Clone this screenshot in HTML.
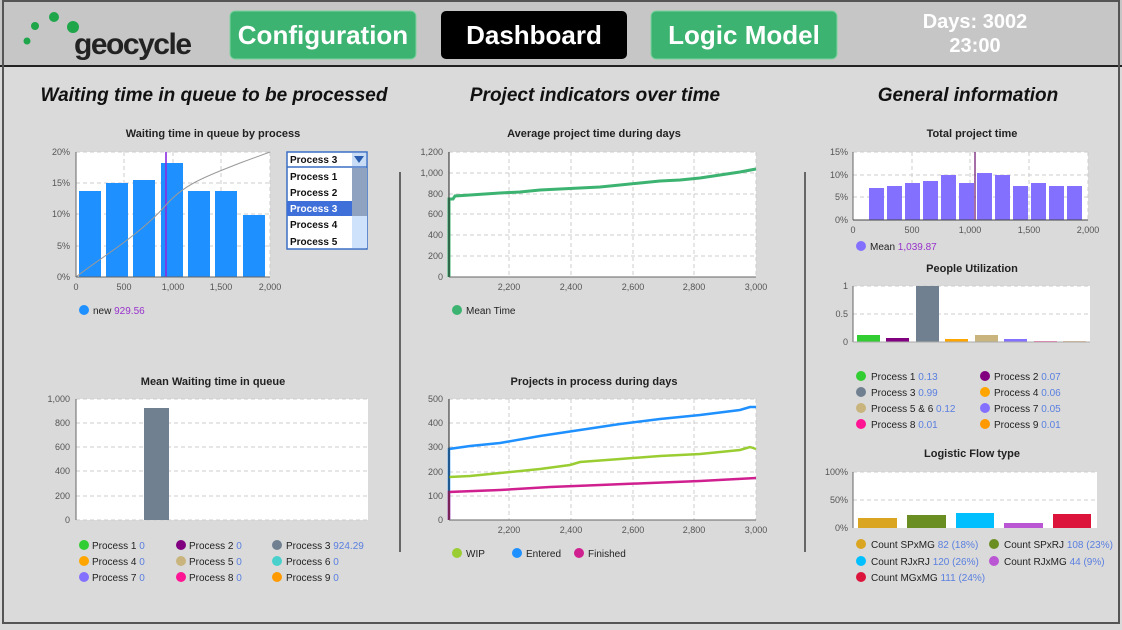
<!DOCTYPE html>
<html><head><meta charset="utf-8"><style>
html,body{margin:0;padding:0;background:#dadada;}
svg{display:block;font-family:"Liberation Sans",Arial,sans-serif;}
.t{font-size:9px;fill:#555;}
.ct{font-size:11px;font-weight:bold;fill:#222;text-anchor:middle;}
.st{font-size:19px;font-weight:bold;font-style:italic;fill:#111;text-anchor:middle;}
.lg{font-size:10px;fill:#222;}
.v{fill:#5a7fe0;}
.g{stroke:#ccc;stroke-dasharray:4 3;stroke-width:1;}
</style></head><body>
<svg width="1122" height="630" viewBox="0 0 1122 630">
<rect x="0" y="0" width="1122" height="630" fill="#dadada"/>
<rect x="0" y="0" width="1122" height="66" fill="#c6c6c6"/>
<line x1="0" y1="66" x2="1122" y2="66" stroke="#222" stroke-width="2"/>
<rect x="3" y="1" width="1116" height="622" fill="none" stroke="#555" stroke-width="2"/>
<!-- logo -->
<circle cx="27" cy="41" r="3.5" fill="#1fa64a"/><circle cx="35" cy="26" r="4" fill="#1fa64a"/>
<circle cx="54" cy="17" r="5" fill="#1fa64a"/><circle cx="73" cy="27" r="6" fill="#1fa64a"/>
<text x="74" y="54" font-size="30" font-weight="bold" fill="#222" textLength="118">geocycle</text>
<!-- buttons -->
<rect x="230" y="11" width="186" height="48" rx="5" fill="#3cb371" stroke="#7fd39f"/>
<text x="323" y="44" font-size="26" font-weight="bold" fill="#fff" text-anchor="middle">Configuration</text>
<rect x="441" y="11" width="186" height="48" rx="5" fill="#000"/>
<text x="534" y="44" font-size="26" font-weight="bold" fill="#fff" text-anchor="middle">Dashboard</text>
<rect x="651" y="11" width="186" height="48" rx="5" fill="#3cb371" stroke="#7fd39f"/>
<text x="744" y="44" font-size="26" font-weight="bold" fill="#fff" text-anchor="middle">Logic Model</text>
<text x="975" y="28" font-size="20" font-weight="bold" fill="#fff" text-anchor="middle">Days: 3002</text>
<text x="975" y="52" font-size="20" font-weight="bold" fill="#fff" text-anchor="middle">23:00</text>
<!-- section titles -->
<text class="st" x="214" y="101">Waiting time in queue to be processed</text>
<text class="st" x="595" y="101">Project indicators over time</text>
<text class="st" x="968" y="101">General information</text>
<line x1="400" y1="172" x2="400" y2="552" stroke="#666" stroke-width="2"/>
<line x1="805" y1="172" x2="805" y2="552" stroke="#666" stroke-width="2"/>

<!-- Chart 1 -->
<text class="ct" x="213" y="137">Waiting time in queue by process</text>
<rect x="76" y="152" width="194" height="125" fill="#fff"/>
<g class="g"><line x1="76" y1="152" x2="270" y2="152"/><line x1="76" y1="183" x2="270" y2="183"/><line x1="76" y1="214" x2="270" y2="214"/><line x1="76" y1="246" x2="270" y2="246"/>
<line x1="124" y1="152" x2="124" y2="277"/><line x1="173" y1="152" x2="173" y2="277"/><line x1="221" y1="152" x2="221" y2="277"/><line x1="270" y1="152" x2="270" y2="277"/></g>
<g fill="#1e90ff"><rect x="79" y="191" width="22" height="86"/><rect x="106" y="183" width="22" height="94"/><rect x="133" y="180" width="22" height="97"/><rect x="161" y="163" width="22" height="114"/><rect x="188" y="191" width="22" height="86"/><rect x="215" y="191" width="22" height="86"/><rect x="243" y="215" width="22" height="62"/></g>
<line x1="166" y1="152" x2="166" y2="277" stroke="#8a2be2" stroke-width="2" opacity="0.8"/>
<path d="M76,277 C100,258 140,235 166,205 C185,183 210,175 240,163 L270,152" fill="none" stroke="#999" stroke-width="1"/>
<line x1="76" y1="152" x2="76" y2="277" stroke="#666"/><line x1="76" y1="277" x2="270" y2="277" stroke="#666"/>
<g class="t" text-anchor="end"><text x="70" y="155">20%</text><text x="70" y="186">15%</text><text x="70" y="217">10%</text><text x="70" y="249">5%</text><text x="70" y="280">0%</text></g>
<g class="t" text-anchor="middle"><text x="76" y="290">0</text><text x="124" y="290">500</text><text x="173" y="290">1,000</text><text x="221" y="290">1,500</text><text x="270" y="290">2,000</text></g>
<circle cx="84" cy="310" r="5" fill="#1e90ff"/><text class="lg" x="93" y="314">new <tspan fill="#9932cc">929.56</tspan></text>
<!-- dropdown -->
<rect x="287" y="152" width="80" height="97" fill="#fff" stroke="#3a6fc4" stroke-width="1.5"/>
<line x1="287" y1="167" x2="367" y2="167" stroke="#3a6fc4" stroke-width="1.5"/>
<rect x="352" y="153" width="14" height="13" fill="#c8dcf5"/><polygon points="354,156 364,156 359,163" fill="#2a5db0"/>
<rect x="352" y="168" width="15" height="80" fill="#cfe2fb"/><rect x="352" y="168" width="15" height="48" fill="#8fa3c0"/>
<rect x="287" y="201" width="65" height="15" fill="#3f6fd8"/>
<g font-size="10" font-weight="bold" fill="#111"><text x="290" y="163">Process 3</text><text x="290" y="180">Process 1</text><text x="290" y="196">Process 2</text><text x="290" y="212" fill="#fff">Process 3</text><text x="290" y="228">Process 4</text><text x="290" y="245">Process 5</text></g>

<!-- Chart 2 -->
<text class="ct" x="594" y="137">Average project time during days</text>
<rect x="449" y="152" width="307" height="125" fill="#fff"/>
<g class="g"><line x1="449" y1="152" x2="756" y2="152"/><line x1="449" y1="173" x2="756" y2="173"/><line x1="449" y1="194" x2="756" y2="194"/><line x1="449" y1="214" x2="756" y2="214"/><line x1="449" y1="235" x2="756" y2="235"/><line x1="449" y1="256" x2="756" y2="256"/>
<line x1="509" y1="152" x2="509" y2="277"/><line x1="571" y1="152" x2="571" y2="277"/><line x1="633" y1="152" x2="633" y2="277"/><line x1="694" y1="152" x2="694" y2="277"/><line x1="756" y1="152" x2="756" y2="277"/></g>
<polyline points="449,277 449,199 453,199 455,196 470,195 500,193 520,192 540,190 560,189 600,187 620,185 640,183 660,181 680,180 700,178 720,175 740,172 756,169" fill="none" stroke="#3cb371" stroke-width="3"/>
<line x1="449" y1="152" x2="449" y2="277" stroke="#222"/><line x1="449" y1="277" x2="756" y2="277" stroke="#666"/>
<g class="t" text-anchor="end"><text x="443" y="155">1,200</text><text x="443" y="176">1,000</text><text x="443" y="197">800</text><text x="443" y="217">600</text><text x="443" y="238">400</text><text x="443" y="259">200</text><text x="443" y="280">0</text></g>
<g class="t" text-anchor="middle"><text x="509" y="290">2,200</text><text x="571" y="290">2,400</text><text x="633" y="290">2,600</text><text x="694" y="290">2,800</text><text x="756" y="290">3,000</text></g>
<circle cx="457" cy="310" r="5" fill="#3cb371"/><text class="lg" x="466" y="314">Mean Time</text>

<!-- Chart 3 -->
<text class="ct" x="594" y="385">Projects in process during days</text>
<rect x="449" y="399" width="307" height="121" fill="#fff"/>
<g class="g"><line x1="449" y1="399" x2="756" y2="399"/><line x1="449" y1="423" x2="756" y2="423"/><line x1="449" y1="447" x2="756" y2="447"/><line x1="449" y1="472" x2="756" y2="472"/><line x1="449" y1="496" x2="756" y2="496"/>
<line x1="509" y1="399" x2="509" y2="520"/><line x1="571" y1="399" x2="571" y2="520"/><line x1="633" y1="399" x2="633" y2="520"/><line x1="694" y1="399" x2="694" y2="520"/><line x1="756" y1="399" x2="756" y2="520"/></g>
<polyline points="449,520 449,449 470,446 500,443 540,436 580,430 620,424 660,419 700,415 740,410 750,407 756,407" fill="none" stroke="#1e90ff" stroke-width="2.5"/>
<polyline points="449,477 470,476 500,473 540,469 570,465 580,462 620,459 660,456 700,454 740,450 750,447 756,449" fill="none" stroke="#9acd32" stroke-width="2.5"/>
<polyline points="449,520 449,492 500,490 550,487 600,485 650,483 700,481 756,478" fill="none" stroke="#d02090" stroke-width="2.5"/>
<line x1="449" y1="399" x2="449" y2="520" stroke="#222"/><line x1="449" y1="520" x2="756" y2="520" stroke="#666"/>
<g class="t" text-anchor="end"><text x="443" y="402">500</text><text x="443" y="426">400</text><text x="443" y="450">300</text><text x="443" y="475">200</text><text x="443" y="499">100</text><text x="443" y="523">0</text></g>
<g class="t" text-anchor="middle"><text x="509" y="533">2,200</text><text x="571" y="533">2,400</text><text x="633" y="533">2,600</text><text x="694" y="533">2,800</text><text x="756" y="533">3,000</text></g>
<circle cx="457" cy="553" r="5" fill="#9acd32"/><text class="lg" x="466" y="557">WIP</text>
<circle cx="517" cy="553" r="5" fill="#1e90ff"/><text class="lg" x="526" y="557">Entered</text>
<circle cx="579" cy="553" r="5" fill="#d02090"/><text class="lg" x="588" y="557">Finished</text>

<!-- Chart 4 -->
<text class="ct" x="213" y="385">Mean Waiting time in queue</text>
<rect x="76" y="399" width="292" height="121" fill="#fff"/>
<g class="g"><line x1="76" y1="399" x2="368" y2="399"/><line x1="76" y1="423" x2="368" y2="423"/><line x1="76" y1="447" x2="368" y2="447"/><line x1="76" y1="471" x2="368" y2="471"/><line x1="76" y1="496" x2="368" y2="496"/><line x1="76" y1="520" x2="368" y2="520"/></g>
<rect x="144" y="408" width="25" height="112" fill="#708090"/>
<line x1="76" y1="399" x2="76" y2="520" stroke="#666"/>
<g class="t" text-anchor="end"><text x="70" y="402">1,000</text><text x="70" y="426">800</text><text x="70" y="450">600</text><text x="70" y="474">400</text><text x="70" y="499">200</text><text x="70" y="523">0</text></g>
<g class="lg">
<circle cx="84" cy="545" r="5" fill="#32cd32"/><text x="92" y="549">Process 1 <tspan class="v">0</tspan></text>
<circle cx="181" cy="545" r="5" fill="#800080"/><text x="189" y="549">Process 2 <tspan class="v">0</tspan></text>
<circle cx="277" cy="545" r="5" fill="#708090"/><text x="286" y="549">Process 3 <tspan class="v">924.29</tspan></text>
<circle cx="84" cy="561" r="5" fill="#ffa500"/><text x="92" y="565">Process 4 <tspan class="v">0</tspan></text>
<circle cx="181" cy="561" r="5" fill="#c8b47c"/><text x="189" y="565">Process 5 <tspan class="v">0</tspan></text>
<circle cx="277" cy="561" r="5" fill="#48d1cc"/><text x="286" y="565">Process 6 <tspan class="v">0</tspan></text>
<circle cx="84" cy="577" r="5" fill="#8470ff"/><text x="92" y="581">Process 7 <tspan class="v">0</tspan></text>
<circle cx="181" cy="577" r="5" fill="#ff1493"/><text x="189" y="581">Process 8 <tspan class="v">0</tspan></text>
<circle cx="277" cy="577" r="5" fill="#ff9900"/><text x="286" y="581">Process 9 <tspan class="v">0</tspan></text>
</g>

<!-- Total project time -->
<text class="ct" x="972" y="137">Total project time</text>
<rect x="853" y="152" width="235" height="68" fill="#fff"/>
<g class="g"><line x1="853" y1="152" x2="1088" y2="152"/><line x1="853" y1="175" x2="1088" y2="175"/><line x1="853" y1="197" x2="1088" y2="197"/>
<line x1="912" y1="152" x2="912" y2="220"/><line x1="970" y1="152" x2="970" y2="220"/><line x1="1029" y1="152" x2="1029" y2="220"/><line x1="1088" y1="152" x2="1088" y2="220"/></g>
<g fill="#8470ff">
<rect x="869" y="188" width="15" height="32"/><rect x="887" y="186" width="15" height="34"/><rect x="905" y="183" width="15" height="37"/><rect x="923" y="181" width="15" height="39"/><rect x="941" y="175" width="15" height="45"/><rect x="959" y="183" width="15" height="37"/><rect x="977" y="173" width="15" height="47"/><rect x="995" y="175" width="15" height="45"/><rect x="1013" y="186" width="15" height="34"/><rect x="1031" y="183" width="15" height="37"/><rect x="1049" y="186" width="15" height="34"/><rect x="1067" y="186" width="15" height="34"/></g>
<line x1="975" y1="152" x2="975" y2="220" stroke="#6a0d6a" stroke-width="1.2"/>
<line x1="853" y1="152" x2="853" y2="220" stroke="#666"/><line x1="853" y1="220" x2="1088" y2="220" stroke="#444"/>
<g class="t" text-anchor="end"><text x="848" y="155">15%</text><text x="848" y="178">10%</text><text x="848" y="200">5%</text><text x="848" y="223">0%</text></g>
<g class="t" text-anchor="middle"><text x="853" y="233">0</text><text x="912" y="233">500</text><text x="970" y="233">1,000</text><text x="1029" y="233">1,500</text><text x="1088" y="233">2,000</text></g>
<circle cx="861" cy="246" r="5" fill="#8470ff"/><text class="lg" x="870" y="250">Mean <tspan fill="#9932cc">1,039.87</tspan></text>

<!-- People Utilization -->
<text class="ct" x="972" y="272">People Utilization</text>
<rect x="853" y="286" width="237" height="56" fill="#fff"/>
<g class="g"><line x1="853" y1="286" x2="1090" y2="286"/><line x1="853" y1="314" x2="1090" y2="314"/></g>
<rect x="857" y="335" width="23" height="7" fill="#32cd32"/><rect x="886" y="338" width="23" height="4" fill="#800080"/>
<rect x="916" y="286" width="23" height="56" fill="#708090"/><rect x="945" y="339" width="23" height="3" fill="#ffa500"/>
<rect x="975" y="335" width="23" height="7" fill="#c8b47c"/><rect x="1004" y="339" width="23" height="3" fill="#8470ff"/>
<rect x="1034" y="341" width="23" height="1.5" fill="#ff69b4"/><rect x="1063" y="341" width="23" height="1" fill="#e8c090"/>
<line x1="853" y1="286" x2="853" y2="342" stroke="#666"/><line x1="853" y1="342" x2="1090" y2="342" stroke="#aaa"/>
<g class="t" text-anchor="end"><text x="848" y="289">1</text><text x="848" y="317">0.5</text><text x="848" y="345">0</text></g>
<g class="lg">
<circle cx="861" cy="376" r="5" fill="#32cd32"/><text x="871" y="380">Process 1 <tspan class="v">0.13</tspan></text>
<circle cx="985" cy="376" r="5" fill="#800080"/><text x="994" y="380">Process 2 <tspan class="v">0.07</tspan></text>
<circle cx="861" cy="392" r="5" fill="#708090"/><text x="871" y="396">Process 3 <tspan class="v">0.99</tspan></text>
<circle cx="985" cy="392" r="5" fill="#ffa500"/><text x="994" y="396">Process 4 <tspan class="v">0.06</tspan></text>
<circle cx="861" cy="408" r="5" fill="#c8b47c"/><text x="871" y="412">Process 5 &amp; 6 <tspan class="v">0.12</tspan></text>
<circle cx="985" cy="408" r="5" fill="#8470ff"/><text x="994" y="412">Process 7 <tspan class="v">0.05</tspan></text>
<circle cx="861" cy="424" r="5" fill="#ff1493"/><text x="871" y="428">Process 8 <tspan class="v">0.01</tspan></text>
<circle cx="985" cy="424" r="5" fill="#ff9900"/><text x="994" y="428">Process 9 <tspan class="v">0.01</tspan></text>
</g>

<!-- Logistic Flow -->
<text class="ct" x="972" y="457">Logistic Flow type</text>
<rect x="853" y="472" width="244" height="56" fill="#fff"/>
<g class="g"><line x1="853" y1="472" x2="1097" y2="472"/><line x1="853" y1="500" x2="1097" y2="500"/></g>
<rect x="858" y="518" width="39" height="10" fill="#daa520"/><rect x="907" y="515" width="39" height="13" fill="#6b8e23"/>
<rect x="956" y="513" width="38" height="15" fill="#00bfff"/><rect x="1004" y="523" width="39" height="5" fill="#ba55d3"/>
<rect x="1053" y="514" width="38" height="14" fill="#dc143c"/>
<line x1="853" y1="472" x2="853" y2="528" stroke="#666"/>
<g class="t" text-anchor="end"><text x="848" y="475">100%</text><text x="848" y="503">50%</text><text x="848" y="531">0%</text></g>
<g class="lg">
<circle cx="861" cy="544" r="5" fill="#daa520"/><text x="871" y="548">Count SPxMG <tspan class="v">82 (18%)</tspan></text>
<circle cx="994" cy="544" r="5" fill="#6b8e23"/><text x="1004" y="548">Count SPxRJ <tspan class="v">108 (23%)</tspan></text>
<circle cx="861" cy="561" r="5" fill="#00bfff"/><text x="871" y="565">Count RJxRJ <tspan class="v">120 (26%)</tspan></text>
<circle cx="994" cy="561" r="5" fill="#ba55d3"/><text x="1004" y="565">Count RJxMG <tspan class="v">44 (9%)</tspan></text>
<circle cx="861" cy="577" r="5" fill="#dc143c"/><text x="871" y="581">Count MGxMG <tspan class="v">111 (24%)</tspan></text>
</g>
</svg>
</body></html>
